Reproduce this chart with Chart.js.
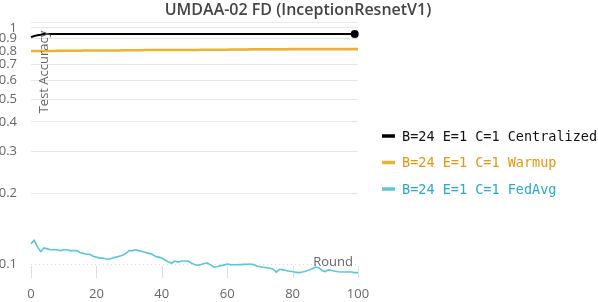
<!DOCTYPE html>
<html>
<head>
<meta charset="utf-8">
<script src="https://cdn.jsdelivr.net/npm/chart.js@4/dist/chart.umd.min.js"></script>
<style>
html,body{margin:0;padding:0;background:#fff;}
#wrap{width:598px;height:302px;position:relative;}
</style>
</head>
<body>
<div id="wrap"><canvas id="c" width="598" height="302"></canvas></div>
<script>
const chartTitle = "UMDAA-02 FD (InceptionResnetV1)";
const xTitle = "Round";
const yTitle = "Test Accuracy";
const seriesLabels = ["B=24 E=1 C=1 Centralized", "B=24 E=1 C=1 Warmup", "B=24 E=1 C=1 FedAvg"];
const yTickValues = [0.1, 0.2, 0.3, 0.4, 0.5, 0.6, 0.7, 0.8, 0.9, 1];
const xTickValues = [0, 20, 40, 60, 80, 100];

// Centralized: rounds 0..99
const centralized = [
0.915,0.925,0.932,0.937,0.945,0.943,0.942,0.943,0.944,0.943,
0.942,0.943,0.943,0.942,0.943,0.944,0.943,0.943,0.942,0.943,
0.943,0.944,0.943,0.942,0.943,0.943,0.944,0.943,0.943,0.942,
0.943,0.943,0.944,0.943,0.943,0.942,0.943,0.943,0.943,0.944,
0.943,0.942,0.943,0.943,0.943,0.944,0.943,0.943,0.942,0.943,
0.943,0.944,0.943,0.943,0.942,0.943,0.943,0.943,0.944,0.943,
0.942,0.943,0.943,0.943,0.944,0.943,0.943,0.942,0.943,0.943,
0.943,0.944,0.943,0.943,0.942,0.943,0.943,0.943,0.944,0.943,
0.942,0.943,0.943,0.943,0.944,0.943,0.943,0.942,0.943,0.943,
0.943,0.944,0.943,0.943,0.942,0.943,0.943,0.943,0.943,0.943
];
// Warmup: rounds 0..101
const warmup = [
0.799,0.799,0.799,0.799,0.799,0.799,0.799,0.799,0.800,0.800,
0.800,0.801,0.801,0.801,0.801,0.801,0.802,0.802,0.802,0.802,
0.802,0.802,0.803,0.803,0.803,0.803,0.803,0.803,0.804,0.804,
0.804,0.804,0.805,0.805,0.805,0.806,0.806,0.806,0.806,0.806,
0.806,0.806,0.806,0.807,0.807,0.807,0.807,0.807,0.807,0.807,
0.807,0.807,0.808,0.808,0.808,0.808,0.808,0.809,0.809,0.809,
0.809,0.810,0.810,0.810,0.811,0.811,0.811,0.812,0.812,0.812,
0.812,0.812,0.813,0.813,0.813,0.813,0.813,0.813,0.813,0.814,
0.814,0.814,0.814,0.814,0.814,0.814,0.814,0.814,0.815,0.815,
0.815,0.815,0.815,0.815,0.815,0.815,0.815,0.815,0.815,0.815,
0.815,0.815
];
// FedAvg: rounds 0..101
const fedavg = [
0.122,0.126,0.118,0.113,0.117,0.116,0.115,0.115,0.115,0.114,
0.115,0.115,0.114,0.114,0.114,0.112,0.111,0.110,0.110,0.108,
0.107,0.106,0.106,0.105,0.105,0.106,0.107,0.108,0.109,0.111,
0.114,0.114,0.115,0.114,0.113,0.112,0.111,0.110,0.108,0.107,
0.106,0.104,0.102,0.101,0.103,0.102,0.103,0.103,0.103,0.101,
0.0995,0.0988,0.0995,0.1005,0.101,0.099,0.097,0.0975,0.0985,0.099,
0.100,0.0995,0.0993,0.0993,0.0995,0.0997,0.0998,0.100,0.0995,0.0982,
0.0975,0.097,0.0965,0.096,0.0953,0.0925,0.095,0.0945,0.094,0.0933,
0.093,0.0922,0.092,0.0925,0.0932,0.0945,0.0955,0.097,0.0965,0.094,
0.093,0.0945,0.094,0.0932,0.0928,0.0925,0.0925,0.0925,0.0925,0.092,
0.092,0.092
];

const lineColors = ["#000000", "#ecb232", "#5cc6dc"];
const textColors = ["#111111", "#e8960c", "#2aa8d2"];
const seriesValues = [centralized, warmup, fedavg];

function toPoints(arr){ return arr.map((v,i)=>({x:i, y:v})); }

const datasets = seriesValues.map((arr, k) => ({
  label: seriesLabels[k],
  data: toPoints(arr),
  borderColor: lineColors[k],
  backgroundColor: lineColors[k],
  borderWidth: k === 1 ? 2.5 : (k === 0 ? 2 : 1.6),
  pointRadius: ctx => ctx.dataIndex === arr.length - 1 ? 3 : 0,
  pointHoverRadius: 0,
  tension: 0,
  clip: false,
  fill: false
}));

const decorPlugin = {
  id: 'decor',
  beforeDatasetsDraw(chart){
    const ctx = chart.ctx, a = chart.chartArea, ys = chart.scales.y, xs = chart.scales.x;
    ctx.save();
    // top border line
    ctx.strokeStyle = '#e8e8e8'; ctx.lineWidth = 1;
    ctx.beginPath(); ctx.moveTo(a.left, a.top + 0.5); ctx.lineTo(a.right, a.top + 0.5); ctx.stroke();
    // dotted 0.1 line
    const y01 = Math.round(ys.getPixelForValue(0.1)) + 0.5;
    ctx.setLineDash([1, 3]); ctx.strokeStyle = '#dddddd';
    ctx.beginPath(); ctx.moveTo(a.left, y01); ctx.lineTo(a.right, y01); ctx.stroke();
    ctx.setLineDash([]);
    // short vertical x tick lines
    ctx.strokeStyle = '#dddddd'; ctx.lineWidth = 1;
    xTickValues.forEach(v => {
      const x = Math.round(xs.getPixelForValue(v)) + 0.5;
      ctx.beginPath(); ctx.moveTo(x, y01 + 1.5); ctx.lineTo(x, a.bottom); ctx.stroke();
    });
    ctx.restore();
  },
  afterDraw(chart){
    const ctx = chart.ctx, a = chart.chartArea;
    ctx.save();
    // title
    ctx.fillStyle = '#444444';
    ctx.font = '600 16px "Open Sans"';
    ctx.textAlign = 'center'; ctx.textBaseline = 'middle';
    ctx.fillText(chartTitle, 298, 10);
    // axis titles
    ctx.fillStyle = '#666666';
    ctx.font = '13px "Open Sans"';
    ctx.fillText(xTitle, 333, 262);
    ctx.save();
    ctx.translate(44, 72); ctx.rotate(-Math.PI/2);
    ctx.fillText(yTitle, 0, 0);
    ctx.restore();
    // legend
    ctx.textAlign = 'left';
    ctx.font = '13.5px "DejaVu Sans Mono"';
    seriesLabels.forEach((lab, k) => {
      const y = 136 + 26.5 * k;
      ctx.strokeStyle = lineColors[k]; ctx.lineWidth = 3.5;
      ctx.beginPath(); ctx.moveTo(382, y); ctx.lineTo(395, y); ctx.stroke();
      ctx.fillStyle = textColors[k];
      ctx.fillText(lab, 402, y + 1);
    });
    ctx.restore();
  }
};

new Chart(document.getElementById('c'), {
  type: 'line',
  data: { datasets },
  options: {
    responsive: false,
    animation: false,
    events: [],
    layout: { padding: { left: 0, right: 240, top: 22, bottom: 0 } },
    plugins: { legend: { display: false }, title: { display: false }, tooltip: { enabled: false } },
    scales: {
      x: {
        type: 'linear', min: 0, max: 100,
        afterBuildTicks: s => { s.ticks = xTickValues.map(v => ({value: v})); },
        afterFit: s => { s.height = 24; },
        grid: { display: false, drawTicks: false },
        border: { display: false },
        ticks: { color: '#666666', font: { family: 'Open Sans', size: 13 }, padding: 8, maxRotation: 0 }
      },
      y: {
        type: 'logarithmic', min: 0.0873, max: 1.06,
        afterBuildTicks: s => { s.ticks = yTickValues.map(v => ({value: v})); },
        afterFit: s => { s.width = 31; },
        grid: { drawTicks: false, color: ctx => (ctx.tick && ctx.tick.value === 0.1) ? 'rgba(0,0,0,0)' : '#e6e6e6' },
        border: { display: false },
        ticks: { color: '#666666', font: { family: 'Open Sans', size: 13 }, padding: 14,
          callback: v => String(v) }
      }
    }
  },
  plugins: [decorPlugin]
});
</script>
</body>
</html>
